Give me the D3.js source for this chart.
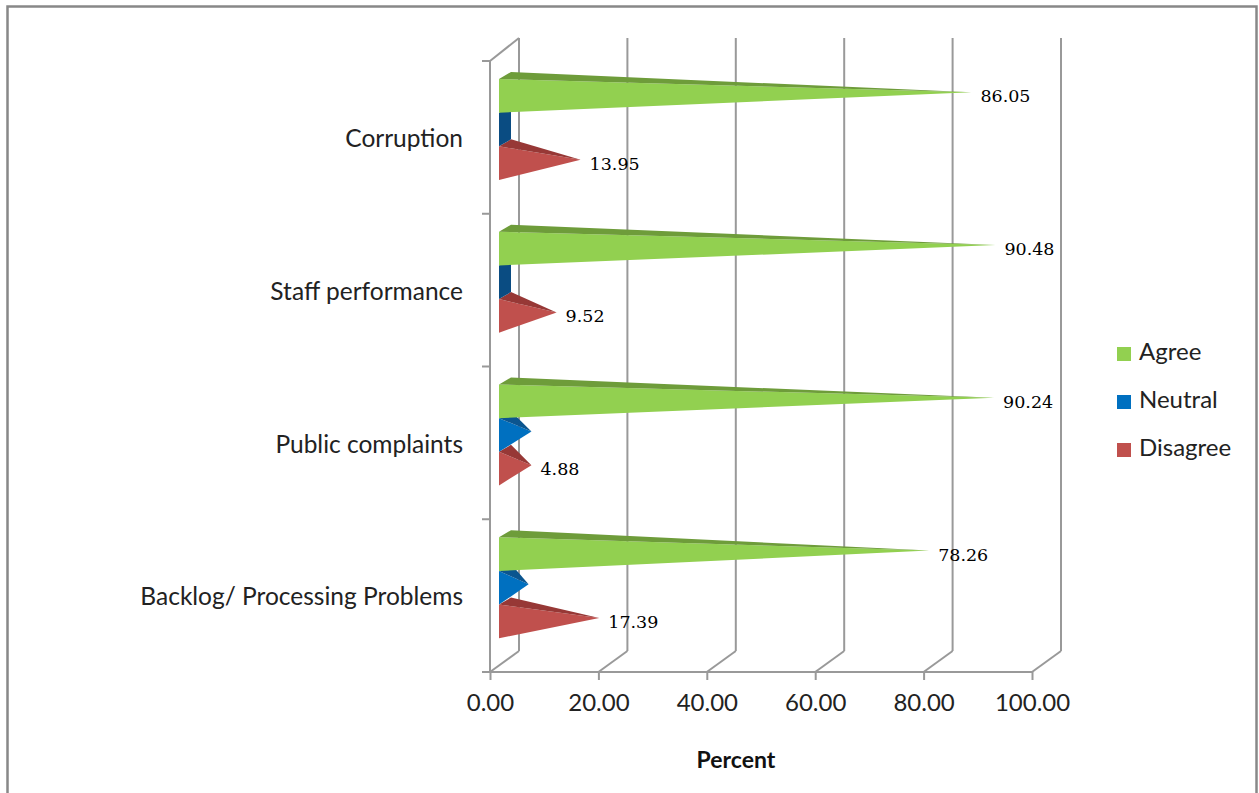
<!DOCTYPE html>
<html>
<head>
<meta charset="utf-8">
<script src="https://cdn.jsdelivr.net/npm/d3@7"></script>
<style>
  html, body { margin: 0; padding: 0; background: #fff; }
  svg { display: block; }
</style>
</head>
<body>
<svg id="chart" width="1259" height="793"></svg>
<script>
// Survey responses per problem area (percent)
const categories = ["Corruption", "Staff performance", "Public complaints", "Backlog/ Processing Problems"];
const seriesNames = ["Agree", "Neutral", "Disagree"];
const agree = [86.05, 90.48, 90.24, 78.26];
const neutral = [0, 0, 4.88, 4.35];
const disagree = [13.95, 9.52, 4.88, 17.39];
const xTicks = [0, 20, 40, 60, 80, 100];
const labelledSeries = ["Agree", "Disagree"];

const seriesValues = { Agree: agree, Neutral: neutral, Disagree: disagree };
const frontColor = { Agree: "#92D050", Neutral: "#0070C0", Disagree: "#C0504D" };
const topColor = { Agree: "#6E9C3A", Neutral: "#0B558F", Disagree: "#973836" };
const baseColor = { Agree: "#5F8A30", Neutral: "#0A4C82", Disagree: "#8A3331" };

const svg = d3.select("#chart");
const gridColor = "#999999";
const sans = "Lato, 'Open Sans', sans-serif";

// outer chart frame
svg.append("rect")
  .attr("x", 7.5).attr("y", 6.5)
  .attr("width", 1249).attr("height", 820)
  .attr("fill", "#fff").attr("stroke", "#888").attr("stroke-width", 2.5);

// scales: front plane of the 3D box
const x = d3.scaleLinear().domain([0, 100]).range([490, 1032]);
const y = d3.scaleBand().domain(categories).range([61, 672]).padding(0);
const ySeries = d3.scaleBand().domain(seriesNames).range([18, 18 + 101]).padding(0);

// oblique depth of the box (back wall offset)
const depthX = 29, depthY = -21;
const yFloor = 672;
const yTopBack = 38;

const walls = svg.append("g").attr("stroke", gridColor).attr("stroke-width", 2).attr("fill", "none");

// back-wall gridlines and floor diagonals
xTicks.forEach(t => {
  const xf = x(t);
  walls.append("line")
    .attr("x1", xf + depthX).attr("y1", yFloor + depthY)
    .attr("x2", xf + depthX).attr("y2", yTopBack);
  walls.append("line")
    .attr("x1", xf).attr("y1", yFloor)
    .attr("x2", xf + depthX).attr("y2", yFloor + depthY);
});

// left side wall edge and its top diagonal
walls.append("line").attr("x1", x(0)).attr("y1", y.range()[0]).attr("x2", x(0)).attr("y2", yFloor);
walls.append("line").attr("x1", x(0)).attr("y1", y.range()[0])
  .attr("x2", x(0) + depthX).attr("y2", yTopBack);

// category boundary ticks
const boundaries = categories.map(c => y(c)).concat([y.range()[1]]);
boundaries.forEach(b => {
  walls.append("line").attr("x1", x(0) - 8).attr("y1", b).attr("x2", x(0)).attr("y2", b);
});

// bottom value axis
const xAxis = d3.axisBottom(x)
  .tickValues(xTicks)
  .tickFormat(d3.format(".2f"))
  .tickSize(8)
  .tickPadding(14);
const gx = svg.append("g").attr("transform", `translate(0,${yFloor})`).call(xAxis);
gx.select(".domain").remove();
gx.selectAll(".tick line").attr("stroke", gridColor).attr("stroke-width", 2);
gx.selectAll(".tick text").attr("font-family", sans).attr("font-size", 24).attr("fill", "#222");
svg.append("line")
  .attr("x1", x(0) - 8).attr("y1", yFloor).attr("x2", x(100)).attr("y2", yFloor)
  .attr("stroke", gridColor).attr("stroke-width", 2);

// category axis labels
const yAxis = d3.axisLeft(y).tickSize(0).tickPadding(27);
const gy = svg.append("g").attr("transform", `translate(${x(0)},2)`).call(yAxis);
gy.select(".domain").remove();
gy.selectAll(".tick text").attr("font-family", sans).attr("font-size", 24.5).attr("fill", "#222");

// axis title
svg.append("text")
  .attr("x", 736).attr("y", 768)
  .attr("text-anchor", "middle")
  .attr("font-family", sans).attr("font-size", 23).attr("font-weight", "bold")
  .attr("fill", "#111")
  .text("Percent");

// pyramid bars
const barShiftX = 9;          // bars sit slightly inside the box depth
const pyrDX = 12, pyrDY = -7; // depth of each pyramid base
const barsG = svg.append("g");
const labelsG = svg.append("g");
const fmt = d3.format(".2f");

categories.forEach((cat, ci) => {
  // draw lower series first so upper bars overlap their top faces
  seriesNames.slice().reverse().forEach(s => {
    const v = seriesValues[s][ci];
    const x0 = x(0) + barShiftX;
    const yTop = y(cat) + ySeries(s);
    const h = ySeries.bandwidth();
    const A = [x0, yTop];
    const B = [x0, yTop + h];
    const C = [x0 + pyrDX, yTop + pyrDY];
    const D = [x0 + pyrDX, yTop + h + pyrDY];
    const T = [x(v) + barShiftX + pyrDX / 2, yTop + h / 2 + pyrDY / 2];
    const line = d3.line();
    if (v === 0) {
      barsG.append("path").attr("d", line([A, C, D, B]) + "Z").attr("fill", baseColor[s]);
    } else {
      barsG.append("path").attr("d", line([A, B, T]) + "Z").attr("fill", frontColor[s]);
      barsG.append("path").attr("d", line([A, C, T]) + "Z").attr("fill", topColor[s]);
    }
    if (labelledSeries.includes(s)) {
      labelsG.append("text")
        .attr("x", T[0] + 9).attr("y", T[1] + 5.5)
        .attr("dominant-baseline", "middle")
        .attr("font-family", "'DejaVu Serif', serif").attr("font-size", 17.5)
        .attr("fill", "#000")
        .text(fmt(v));
    }
  });
});

// legend
const legend = svg.append("g");
seriesNames.forEach((s, i) => {
  const ly = 354 + i * 48;
  legend.append("rect")
    .attr("x", 1117).attr("y", ly - 7).attr("width", 14).attr("height", 14)
    .attr("fill", frontColor[s]);
  legend.append("text")
    .attr("x", 1139).attr("y", ly)
    .attr("dominant-baseline", "middle")
    .attr("font-family", sans).attr("font-size", 24).attr("fill", "#222")
    .text(s);
});
</script>
</body>
</html>
